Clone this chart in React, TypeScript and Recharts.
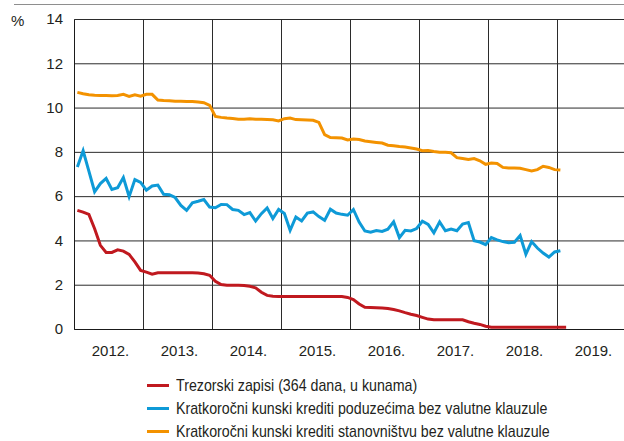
import React from 'react';
import { CartesianGrid, Legend, Line, LineChart, XAxis, YAxis } from 'recharts';

const FONT = '"Liberation Sans", Arial, sans-serif';
const INK = '#231f20';

// month index 0 = siječanj 2012.
const yearLabels = ['2012.', '2013.', '2014.', '2015.', '2016.', '2017.', '2018.', '2019.'];
const yearTicks = [0, 12, 24, 36, 48, 60, 72, 84];
const yTicks = [0, 2, 4, 6, 8, 10, 12, 14];

const trezorski = [
  5.38, 5.3, 5.2, 4.55, 3.8, 3.48, 3.48, 3.6, 3.54, 3.39, 3.05, 2.67,
  2.59, 2.5, 2.56, 2.56, 2.56, 2.56, 2.56, 2.56, 2.56, 2.55, 2.52, 2.45,
  2.18, 2.03, 2.0, 2.0, 2.0, 1.99, 1.95, 1.88, 1.68, 1.54, 1.5, 1.49,
  1.49, 1.49, 1.49, 1.49, 1.49, 1.49, 1.49, 1.49, 1.49, 1.49, 1.49, 1.45,
  1.35, 1.15, 1.0, 0.99, 0.98, 0.97, 0.95, 0.9, 0.84, 0.76, 0.69, 0.63,
  0.55, 0.47, 0.44, 0.44, 0.44, 0.44, 0.44, 0.44, 0.35, 0.28, 0.23, 0.15,
  0.1, 0.1, 0.1, 0.1, 0.1, 0.1, 0.1, 0.1, 0.1, 0.1, 0.1, 0.1,
  0.1, 0.1,
];

const poduzeca = [
  7.34, 8.07, 7.15, 6.22, 6.59, 6.82, 6.32, 6.4, 6.86, 6.0, 6.77, 6.64,
  6.29, 6.48, 6.52, 6.11, 6.09, 5.96, 5.6, 5.38, 5.72, 5.79, 5.87, 5.53,
  5.5, 5.65, 5.64, 5.42, 5.38, 5.19, 5.28, 4.9, 5.23, 5.49, 5.01, 5.42,
  5.24, 4.48, 5.08, 4.9, 5.26, 5.31, 5.1, 4.93, 5.43, 5.26, 5.2, 5.16,
  5.42, 4.85, 4.45, 4.39, 4.47, 4.43, 4.53, 4.86, 4.15, 4.48, 4.45, 4.56,
  4.89, 4.75, 4.37, 4.86, 4.46, 4.54, 4.46, 4.76, 4.83, 4.01, 3.95, 3.83,
  4.15, 4.05, 3.97, 3.92, 3.94, 4.24, 3.4, 3.97, 3.68, 3.45, 3.27, 3.5,
  3.56,
];

const stanovnistvo = [
  10.71, 10.65, 10.6, 10.58, 10.57, 10.57, 10.56, 10.57, 10.62, 10.53, 10.6, 10.54,
  10.62, 10.62, 10.36, 10.34, 10.33, 10.31, 10.31, 10.3, 10.3, 10.27, 10.24, 10.12,
  9.62, 9.58, 9.55, 9.53, 9.5, 9.49, 9.52, 9.5, 9.49, 9.48, 9.47, 9.42,
  9.52, 9.55, 9.48, 9.47, 9.46, 9.45, 9.35, 8.8, 8.67, 8.66, 8.65, 8.56,
  8.6, 8.58, 8.51, 8.48, 8.45, 8.42, 8.32, 8.3, 8.26, 8.24, 8.2, 8.15,
  8.07, 8.08, 8.04, 8.01, 8.0, 7.98, 7.76, 7.72, 7.68, 7.72, 7.62, 7.46,
  7.52, 7.5, 7.32, 7.29, 7.29, 7.28, 7.22, 7.16, 7.22, 7.37, 7.32, 7.22,
  7.2,
];

const series = [
  { key: 'trezorski', name: 'Trezorski zapisi (364 dana, u kunama)', color: '#c0191f' },
  { key: 'poduzeca', name: 'Kratkoročni kunski krediti poduzećima bez valutne klauzule', color: '#0e9ad7' },
  { key: 'stanovnistvo', name: 'Kratkoročni kunski krediti stanovništvu bez valutne klauzule', color: '#f39200' },
];

const data = trezorski.map((v, i) => ({
  t: i + 0.5,
  trezorski: v,
  poduzeca: poduzeca[i] ?? null,
  stanovnistvo: stanovnistvo[i] ?? null,
}));

const YearTick = (props: any) => {
  const { x, y, payload } = props;
  const idx = yearTicks.indexOf(payload.value);
  return (
    <text x={x + 36} y={y + 26} textAnchor="middle" fill={INK} style={{ fontFamily: FONT, fontSize: 15 }}>
      {yearLabels[idx]}
    </text>
  );
};

const ValueTick = (props: any) => {
  const { x, y, payload } = props;
  return (
    <text x={x} y={y + 4.8} textAnchor="end" fill={INK} style={{ fontFamily: FONT, fontSize: 15 }}>
      {payload.value}
    </text>
  );
};

// condensed look: Liberation Sans squeezed horizontally
const LegendBox = () => (
  <div style={{ fontFamily: FONT, fontSize: 17, color: INK, lineHeight: 1 }}>
    {series.map((s) => (
      <div key={s.key} style={{ display: 'flex', alignItems: 'center', height: 23.2, whiteSpace: 'nowrap' }}>
        <span style={{ display: 'inline-block', flexShrink: 0, width: 22, height: 3, background: s.color, marginRight: 7 }} />
        <span style={{ display: 'inline-block', flexShrink: 0, transform: 'scaleX(0.836)', transformOrigin: 'left center' }}>
          {s.name}
        </span>
      </div>
    ))}
  </div>
);

export default function App() {
  return (
    <div style={{ position: 'absolute', left: 0, top: 0, width: 624, height: 441, overflow: 'hidden', background: '#fff' }}>
      <div style={{ position: 'absolute', left: 14, top: 3.5, width: 610, borderTop: '1.5px solid #8e8e8e' }} />
      <span style={{ position: 'absolute', left: 11, top: 12, fontFamily: FONT, fontSize: 15, color: INK }}>%</span>
      <LineChart
        width={640}
        height={441}
        data={data}
        margin={{ top: 19.5, right: 13.5, left: 0, bottom: 0 }}
      >
        <CartesianGrid stroke="#2b2b2b" strokeWidth={1} horizontalValues={yTicks} verticalValues={yearTicks} />
        <XAxis
          type="number"
          dataKey="t"
          domain={[0, 96]}
          ticks={yearTicks}
          interval={0}
          allowDataOverflow
          height={111.5}
          tickLine={false}
          tickSize={0}
          tickMargin={0}
          axisLine={{ stroke: '#1a1a1a' }}
          tick={YearTick}
        />
        <YAxis
          type="number"
          domain={[0, 14]}
          ticks={yTicks}
          interval={0}
          width={74.5}
          tickLine={false}
          tickSize={0}
          tickMargin={11.5}
          axisLine={{ stroke: '#1a1a1a' }}
          tick={ValueTick}
        />
        <Legend
          layout="vertical"
          align="center"
          verticalAlign="middle"
          content={LegendBox}
          wrapperStyle={{ position: 'absolute', left: 147, top: 374, width: 476, height: 66 }}
        />
        {series.map((s) => (
          <Line
            key={s.key}
            type="linear"
            dataKey={s.key}
            name={s.name}
            stroke={s.color}
            strokeWidth={3}
            dot={false}
            activeDot={false}
            isAnimationActive={false}
          />
        ))}
      </LineChart>
    </div>
  );
}
